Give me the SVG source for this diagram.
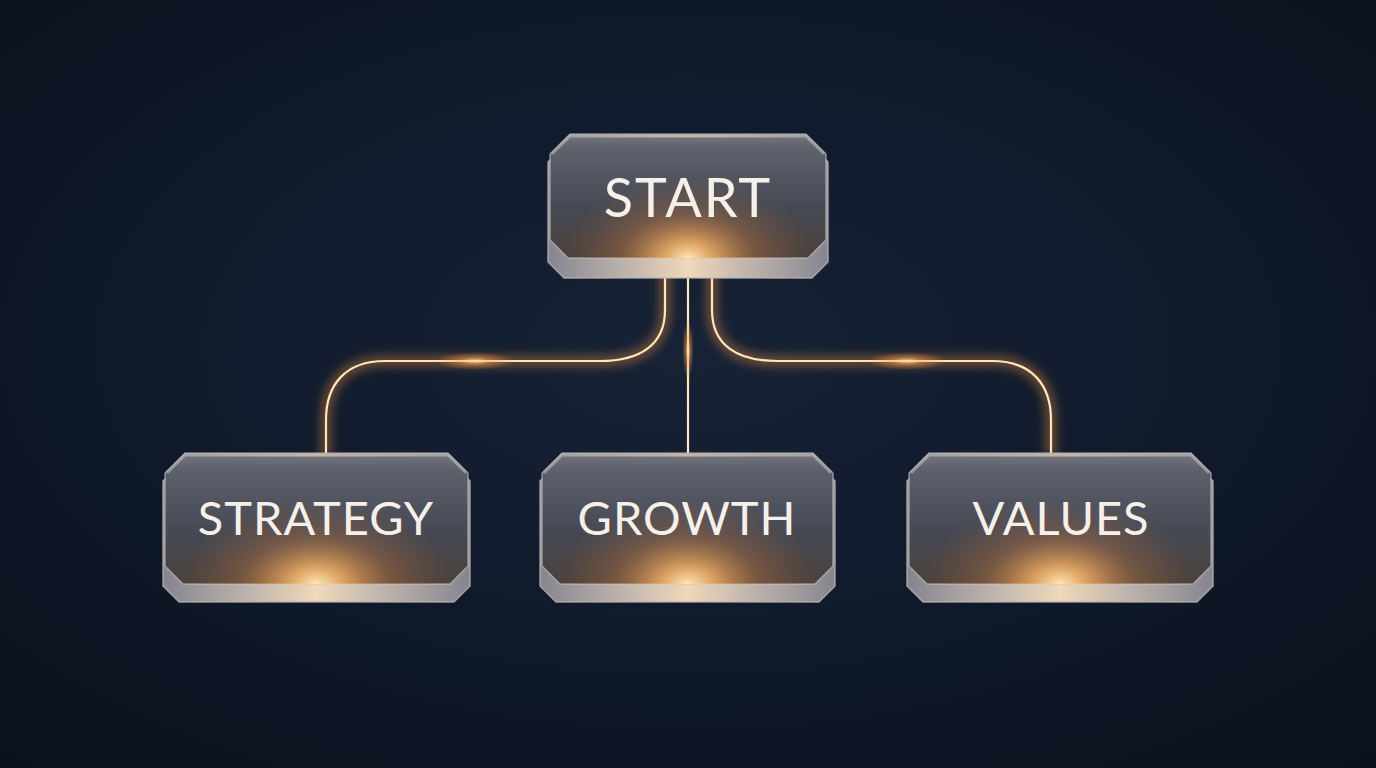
<svg xmlns="http://www.w3.org/2000/svg" width="1376" height="768" viewBox="0 0 1376 768">
<style>
.label{font-family:Lato,"Open Sans","Liberation Sans",sans-serif;fill:#f6f0ea;text-anchor:middle}
.slab{fill:url(#slabG);stroke:#b9b4b2;stroke-opacity:0.8;stroke-width:1.5;stroke-linejoin:round}
.face{fill:url(#faceG);stroke:#c9c6c8;stroke-opacity:0.6;stroke-width:1.5;stroke-linejoin:round}
.glowf{stroke:none;fill:url(#glowG)}
.hl{fill:none;stroke:url(#hlG);stroke-width:3;stroke-linejoin:round}
.wire-glow{fill:none;stroke:#ff9a40;stroke-width:12;stroke-opacity:0.35;filter:url(#blur)}
.wire{fill:none;stroke:#ffe4bd;stroke-width:2.2;stroke-linecap:round}
</style>
<defs>
<radialGradient id="bg" cx="0.5" cy="0.45" r="0.75">
<stop offset="0" stop-color="#172236"/>
<stop offset="0.6" stop-color="#0f1828"/>
<stop offset="1" stop-color="#0a101c"/>
</radialGradient>
<linearGradient id="faceG" x1="0" y1="0" x2="0" y2="1">
<stop offset="0" stop-color="#767880"/>
<stop offset="0.12" stop-color="#5d616c"/>
<stop offset="0.6" stop-color="#464953"/>
<stop offset="1" stop-color="#4a423c"/>
</linearGradient>
<radialGradient id="glowG" cx="0.5" cy="1" r="0.5" gradientTransform="translate(0.5 1) scale(0.9 1.3) translate(-0.5 -1)">
<stop offset="0" stop-color="#ffe8b4" stop-opacity="1"/>
<stop offset="0.2" stop-color="#ffb868" stop-opacity="0.8"/>
<stop offset="0.55" stop-color="#c87a40" stop-opacity="0.35"/>
<stop offset="1" stop-color="#a05a30" stop-opacity="0"/>
</radialGradient>
<linearGradient id="slabG" x1="0" y1="0" x2="1" y2="0">
<stop offset="0" stop-color="#858590"/>
<stop offset="0.3" stop-color="#c2b7ae"/>
<stop offset="0.5" stop-color="#f0d8b8"/>
<stop offset="0.7" stop-color="#c2b7ae"/>
<stop offset="1" stop-color="#858590"/>
</linearGradient>
<linearGradient id="hlG" x1="0" y1="0" x2="1" y2="0">
<stop offset="0" stop-color="#ffffff" stop-opacity="0.3"/>
<stop offset="0.5" stop-color="#ffe0b8" stop-opacity="0.6"/>
<stop offset="1" stop-color="#ffffff" stop-opacity="0.3"/>
</linearGradient>
<radialGradient id="spot" cx="0.5" cy="0.5" r="0.5">
<stop offset="0" stop-color="#ffe6b0" stop-opacity="0.95"/>
<stop offset="0.4" stop-color="#ffa850" stop-opacity="0.45"/>
<stop offset="1" stop-color="#ff9040" stop-opacity="0"/>
</radialGradient>
<filter id="blur" x="-20%" y="-20%" width="140%" height="140%"><feGaussianBlur stdDeviation="5"/></filter>
</defs>

<rect width="1376" height="768" fill="url(#bg)"/>

<g id="connectors">
<path class="wire-glow" d="M665,270 L665,310 C665,345 640,361 600,361 L385,361 C345,361 326,385 326,420 L326,455"/>
<path class="wire-glow" d="M688,270 L688,455"/>
<path class="wire-glow" d="M712,270 L712,310 C712,345 737,361 777,361 L992,361 C1032,361 1051,385 1051,420 L1051,455"/>
<path class="wire" d="M665,270 L665,310 C665,345 640,361 600,361 L385,361 C345,361 326,385 326,420 L326,455"/>
<path class="wire" d="M688,270 L688,455"/>
<path class="wire" d="M712,270 L712,310 C712,345 737,361 777,361 L992,361 C1032,361 1051,385 1051,420 L1051,455"/>
<ellipse cx="475" cy="361" rx="40" ry="9" fill="url(#spot)"/>
<ellipse cx="907" cy="361" rx="40" ry="9" fill="url(#spot)"/>
<ellipse cx="688" cy="350" rx="6" ry="30" fill="url(#spot)"/>
</g>

<g id="node-start">
<path class="slab" d="M568,142 H808 L828,162 V262 L812,278 H564 L548,262 V162 Z"/>
<path class="face" d="M570,134 H806 L826,154 V240 L808,258 H568 L550,240 V154 Z"/>
<path class="glowf" d="M570,134 H806 L826,154 V240 L808,258 H568 L550,240 V154 Z"/>
<path class="hl" d="M552,154 L570,136 H806 L824,154"/>
<text class="label" x="688" y="217" font-size="54" letter-spacing="2">START</text>
</g>

<g id="node-strategy">
<path class="slab" d="M183,461 H450 L470,481 V586 L454,602 H179 L163,586 V481 Z"/>
<path class="face" d="M185,453 H448 L468,473 V566 L450,584 H183 L165,566 V473 Z"/>
<path class="glowf" d="M185,453 H448 L468,473 V566 L450,584 H183 L165,566 V473 Z"/>
<path class="hl" d="M167,473 L185,455 H448 L466,473"/>
<text class="label" x="316" y="535" font-size="47" letter-spacing="1">STRATEGY</text>
</g>

<g id="node-growth">
<path class="slab" d="M560,461 H815 L835,481 V586 L819,602 H556 L540,586 V481 Z"/>
<path class="face" d="M562,453 H813 L833,473 V566 L815,584 H560 L542,566 V473 Z"/>
<path class="glowf" d="M562,453 H813 L833,473 V566 L815,584 H560 L542,566 V473 Z"/>
<path class="hl" d="M544,473 L562,455 H813 L831,473"/>
<text class="label" x="687" y="535" font-size="47" letter-spacing="1">GROWTH</text>
</g>

<g id="node-values">
<path class="slab" d="M927,461 H1193 L1213,481 V586 L1197,602 H923 L907,586 V481 Z"/>
<path class="face" d="M929,453 H1191 L1211,473 V566 L1193,584 H927 L909,566 V473 Z"/>
<path class="glowf" d="M929,453 H1191 L1211,473 V566 L1193,584 H927 L909,566 V473 Z"/>
<path class="hl" d="M911,473 L929,455 H1191 L1209,473"/>
<text class="label" x="1061" y="535" font-size="47" letter-spacing="1">VALUES</text>
</g>
</svg>
